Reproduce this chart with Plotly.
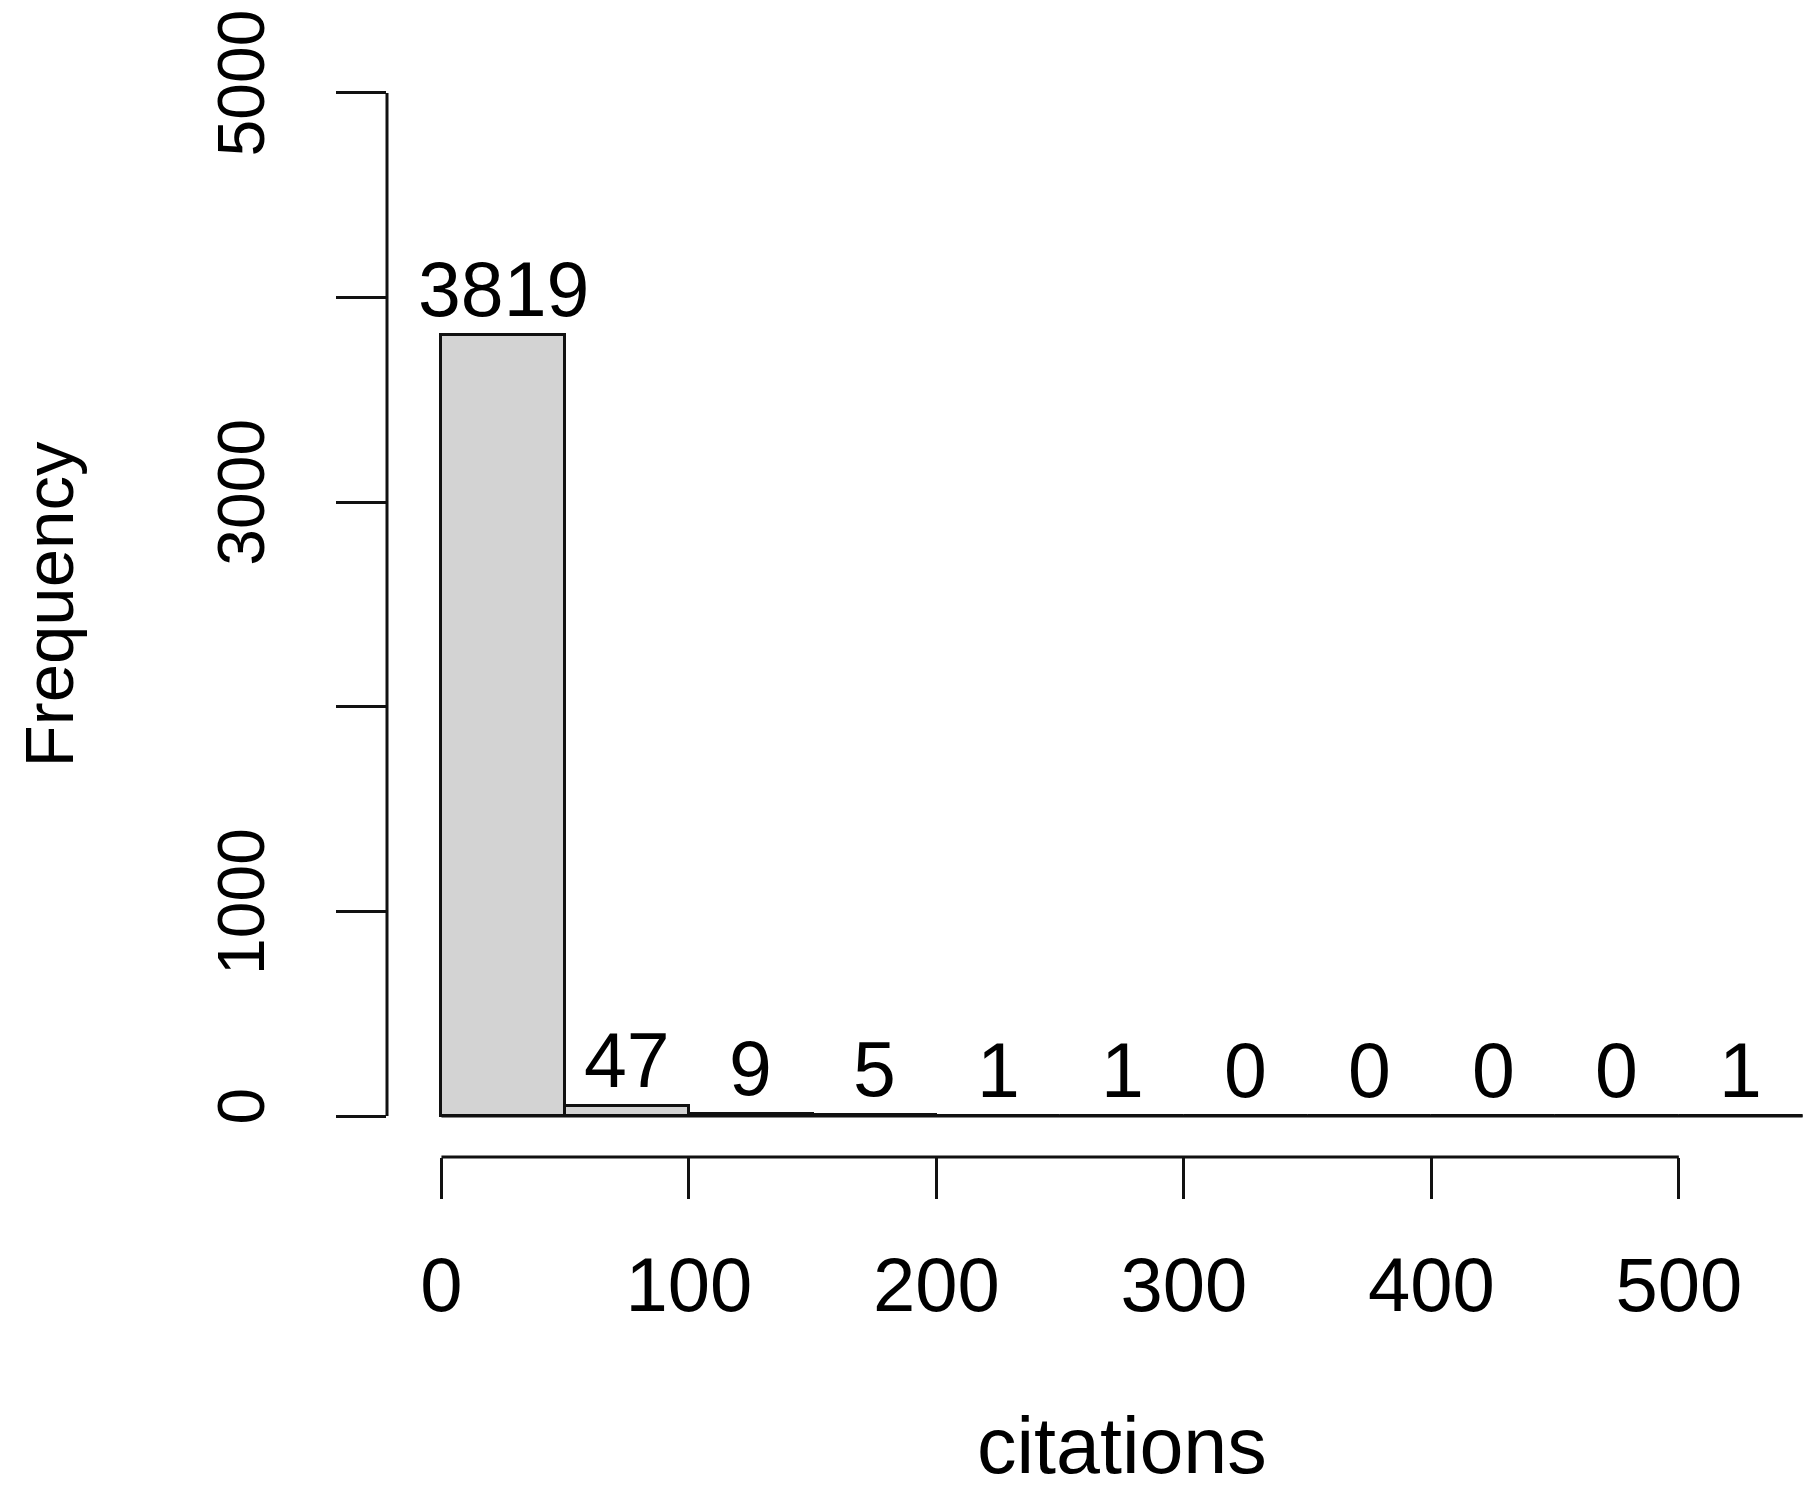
import plotly.graph_objects as go

# Data
bin_edges = [0, 50, 100, 150, 200, 250, 300, 350, 400, 450, 500, 550]
counts = [3819, 47, 9, 5, 1, 1, 0, 0, 0, 0, 1]
x_ticks = [0, 100, 200, 300, 400, 500]
y_ticks = [0, 1000, 2000, 3000, 4000, 5000]
y_tick_text = ["0", "1000", "", "3000", "", "5000"]
x_title = "citations"
y_title = "Frequency"

centers = [(a + b) / 2 for a, b in zip(bin_edges[:-1], bin_edges[1:])]
widths = [b - a for a, b in zip(bin_edges[:-1], bin_edges[1:])]

FONT = "Liberation Sans, Arial, Helvetica, sans-serif"
FS = 77
LW = 3

xlim = [-22, 553]
ylim = [-200, 5200]

fig = go.Figure()
fig.add_trace(go.Bar(
    x=centers, y=counts, width=widths,
    marker=dict(color="#d3d3d3", line=dict(color="#111111", width=LW)),
    showlegend=False, hoverinfo="x+y",
))

# bar count labels
for c, n in zip(centers, counts):
    fig.add_annotation(x=c, y=n, xref="x", yref="y", text=str(n), showarrow=False,
                       yanchor="middle", yshift=46,
                       font=dict(family=FONT, size=FS, color="black"))

# baseline of histogram (zero-height bins)
fig.add_shape(type="line", xref="x", yref="y", x0=bin_edges[0], x1=bin_edges[-1], y0=0, y1=0,
              line=dict(color="#111111", width=LW))
# y axis line (R style: spans tick range only)
fig.add_shape(type="line", xref="paper", yref="y", x0=0, x1=0, y0=y_ticks[0], y1=y_ticks[-1],
              line=dict(color="#111111", width=LW))
# x axis line (R style: spans tick range only)
fig.add_shape(type="line", xref="x", yref="paper", x0=x_ticks[0], x1=x_ticks[-1], y0=0, y1=0,
              line=dict(color="#111111", width=LW))

# axis titles
fig.add_annotation(x=(-22 + 572) / 2, y=0, xref="x", yref="paper", text=x_title, showarrow=False,
                   yanchor="middle", yshift=-(1445 - 1157),
                   font=dict(family=FONT, size=79, color="black"))
fig.add_annotation(x=0, y=0.5, xref="paper", yref="paper", text=y_title, showarrow=False,
                   textangle=-90, xanchor="center", xshift=-(387 - 49),
                   font=dict(family=FONT, size=69, color="black"))

fig.update_layout(
    width=1814, height=1498,
    margin=dict(l=379, r=12, t=44, b=349, autoexpand=False),
    paper_bgcolor="white", plot_bgcolor="white",
    bargap=0,
    font=dict(family=FONT, size=FS, color="black"),
    xaxis=dict(range=xlim, showgrid=False, zeroline=False, showline=False, automargin=False,
               tickmode="array", tickvals=x_ticks, ticks="outside", ticklen=41,
               tickwidth=LW, tickcolor="#111111",
               tickfont=dict(family=FONT, size=76, color="black"),
               ticklabelstandoff=21, ticklabeloverflow="allow"),
    yaxis=dict(range=ylim, showgrid=False, zeroline=False, showline=False, automargin=False,
               tickmode="array", tickvals=y_ticks, ticktext=y_tick_text,
               ticks="outside", ticklen=50, tickwidth=LW, tickcolor="#111111",
               tickangle=-90,
               tickfont=dict(family=FONT, size=66, color="black"),
               ticklabelstandoff=46, ticklabeloverflow="allow"),
)

fig.write_html("out.html")
